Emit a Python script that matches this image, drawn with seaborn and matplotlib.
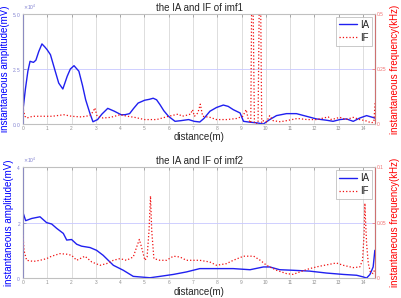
import matplotlib
matplotlib.use("Agg")
import matplotlib.pyplot as plt
import matplotlib.ticker as mticker
import seaborn as sns

sns.set_style("white")
plt.rcParams["font.family"] = ["Liberation Sans", "DejaVu Sans"]

# ---- imf1 : instantaneous amplitude (mV) ----
ia1_x = [0, 0.1, 0.2, 0.29, 0.43, 0.53, 0.65, 0.78, 0.9, 0.99, 1.13, 1.3, 1.47,
         1.64, 1.82, 1.95, 2.1, 2.3, 2.45, 2.58, 2.75, 2.88, 3.07, 3.25, 3.49,
         3.76, 4.04, 4.2, 4.39, 4.55, 4.74, 5.01, 5.2, 5.36, 5.5, 5.64, 5.8,
         5.99, 6.26, 6.5, 6.82, 7.05, 7.28, 7.45, 7.7, 7.97, 8.25, 8.45, 8.66,
         8.94, 9.08, 9.35, 9.63, 9.9, 10.16, 10.44, 10.85, 11.26, 11.67, 12.08,
         12.5, 12.77, 13.05, 13.32, 13.6, 13.87, 14.15, 14.49]
ia1_y = [6500, 16000, 24000, 28500, 28000, 29000, 33000, 36400, 35000, 33800,
         31500, 25000, 18600, 15900, 21700, 25000, 26500, 24000, 17500, 11000,
         5000, 1000, 2000, 4500, 7100, 5800, 4200, 4200, 4700, 7000, 9500,
         10800, 11200, 11700, 11000, 8800, 6000, 3500, 1200, 1500, 2000, 1200,
         900, 2500, 5800, 7500, 8600, 8000, 6500, 5000, 1200, 800, 500, 0, 2000,
         3800, 4700, 4700, 3500, 2300, 1700, 1200, 2000, 2300, 1200, 2700, 3800,
         2700]

# ---- imf1 : instantaneous frequency (kHz) ----
if1_x = [0, 0.02, 0.08, 0.15, 0.4, 0.8, 1.2, 1.68, 2.0, 2.4, 2.75, 2.88, 2.96,
         3.05, 3.3, 3.6, 4.0, 4.3, 4.6, 5.0, 5.5, 6.0, 6.2, 6.4, 6.55, 6.75,
         6.9, 6.98, 7.06, 7.2, 7.3, 7.4, 7.7, 7.97, 8.4, 8.8, 9.05, 9.19, 9.28,
         9.38, 9.44, 9.53, 9.6, 9.68, 9.76, 9.83, 9.9, 10.03, 10.16, 10.3, 10.6,
         10.85, 11.3, 11.7, 12.1, 12.57, 12.7, 13.05, 13.3, 13.6, 13.87, 14.1,
         14.35, 14.45, 14.5]
if1_y = [0.095, 0.06, 0.035, 0.027, 0.035, 0.035, 0.035, 0.042, 0.035, 0.032,
         0.038, 0.055, 0.073, 0.035, 0.027, 0.03, 0.042, 0.035, 0.03, 0.02,
         0.02, 0.035, 0.04, 0.045, 0.035, 0.04, 0.045, 0.065, 0.035, 0.05,
         0.09, 0.035, 0.03, 0.02, 0.02, 0.025, 0.035, 0.065, 0.02, 0.005, 0.9,
         0.005, 0.0, 0.005, 0.9, 0.005, 0.015, 0.01, 0.038, 0.015, 0.01, 0.015,
         0.025, 0.02, 0.02, 0.032, 0.02, 0.03, 0.02, 0.03, 0.02, 0.015, 0.005,
         0.01, 0.095]

# ---- imf2 : instantaneous amplitude (mV) ----
ia2_x = [0, 0.11, 0.36, 0.7, 0.97, 1.18, 1.39, 1.66, 1.8, 2.0, 2.21, 2.41, 2.76,
         3.03, 3.3, 3.72, 4.13, 4.54, 4.81, 5.23, 5.64, 6.19, 6.73, 7.28, 7.97,
         8.66, 9.35, 9.9, 10.16, 10.57, 11.12, 11.8, 12.5, 13.19, 13.74, 14.01,
         14.15, 14.29, 14.42, 14.49]
ia2_y = [23600, 20700, 21500, 22100, 20000, 19500, 17900, 16100, 13700, 13900,
         12200, 11500, 11000, 10000, 8200, 4600, 2800, 600, 400, 100, 600,
         1300, 2200, 3400, 3400, 3400, 3000, 4000, 4000, 3000, 2800, 2500,
         1800, 1300, 1000, 400, 0, 1300, 4000, 10000]

# ---- imf2 : instantaneous frequency (kHz) ----
if2_x = [0, 0.04, 0.15, 0.43, 0.7, 0.97, 1.18, 1.52, 1.8, 2.0, 2.21, 2.55, 2.83,
         3.17, 3.44, 3.72, 3.99, 4.26, 4.54, 4.68, 4.79, 4.88, 5.02, 5.11, 5.19,
         5.25, 5.3, 5.39, 5.64, 5.91, 6.19, 6.46, 6.73, 7.0, 7.28, 7.69, 7.97,
         8.38, 8.66, 9.08, 9.5, 9.77, 10.03, 10.44, 10.85, 11.12, 11.4, 11.8,
         12.2, 12.63, 12.9, 13.19, 13.6, 13.87, 13.98, 14.05, 14.08, 14.1, 14.15,
         14.22, 14.31, 14.42, 14.49]
if2_y = [0.0387, 0.025, 0.016, 0.015, 0.016, 0.0175, 0.0197, 0.022, 0.0215,
         0.0205, 0.016, 0.0197, 0.0145, 0.0115, 0.013, 0.016, 0.0175, 0.016,
         0.019, 0.028, 0.0348, 0.028, 0.016, 0.019, 0.043, 0.074, 0.043, 0.0175,
         0.016, 0.016, 0.0197, 0.019, 0.016, 0.016, 0.016, 0.0145, 0.0115,
         0.013, 0.016, 0.0197, 0.0197, 0.016, 0.0115, 0.007, 0.004, 0.0033,
         0.0055, 0.0085, 0.0106, 0.0124, 0.0136, 0.0115, 0.0094, 0.010, 0.016,
         0.040, 0.0674, 0.055, 0.031, 0.013, 0.005, 0.004, 0.008]

panels = [
    ("the IA and IF of imf1", ia1_x, ia1_y, if1_x, if1_y, 50000, [0, 25000, 50000],
     0.5, [0, 0.25, 0.5], ["0", "0.25", "0.5"]),
    ("the IA and IF of imf2", ia2_x, ia2_y, if2_x, if2_y, 40000, [0, 20000, 40000],
     0.1, [0, 0.05, 0.1], ["0", "0.05", "0.1"]),
]

blue = "#2020f0"
red = "#f01010"
fig = plt.figure(figsize=(4.01, 2.98), dpi=100)
rects = [[0.0574, 0.584, 0.878, 0.369], [0.0574, 0.067, 0.878, 0.372]]

for rect, (title, iax, iay, ifx, ify, lmax, lticks, rmax, rticks, rlabels) in zip(rects, panels):
    ax = fig.add_axes(rect)
    ax2 = ax.twinx()
    sns.lineplot(x=iax, y=iay, ax=ax, color=blue, lw=1.0, label="IA", legend=False)
    sns.lineplot(x=ifx, y=ify, ax=ax2, color=red, lw=0.9, linestyle=":", label="IF", legend=False)

    ax.set_xlim(0, 14.5)
    ax.set_ylim(0, lmax)
    ax2.set_ylim(0, rmax)
    ax.set_xticks(range(15))
    ax.set_yticks(lticks)
    ax2.set_yticks(rticks)
    ax2.set_yticklabels(rlabels)

    fmt = mticker.ScalarFormatter(useMathText=True)
    fmt.set_powerlimits((0, 0))
    ax.yaxis.set_major_formatter(fmt)
    ax.yaxis.get_offset_text().set_fontsize(3.5)
    ax.yaxis.get_offset_text().set_color("#8080d0")

    ax.xaxis.grid(True, color="#d8d8d8", lw=0.6)
    ax.yaxis.grid(True, color="#c8c8ff", lw=0.6)
    ax.set_axisbelow(True)

    ax.tick_params(axis="x", labelsize=3.5, colors="#909090", direction="in",
                   length=2, width=0.5, pad=1.5, top=True)
    ax.tick_params(axis="y", labelsize=3.5, colors="#8080d0", direction="in",
                   length=2, width=0.5, pad=1.5)
    ax2.tick_params(axis="y", labelsize=3.5, colors="#f07070", direction="in",
                    length=2, width=0.5, pad=1.5)

    for s in ["top", "bottom"]:
        ax.spines[s].set_color("#c0c0c0")
        ax2.spines[s].set_color("#c0c0c0")
    ax2.spines["left"].set_color("#a0a0e0")
    ax2.spines["right"].set_color("#f08080")
    for sp in ax2.spines.values():
        sp.set_linewidth(0.6)

    ax.set_title(title, fontsize=7, pad=2)
    ax.set_xlabel("distance(m)", fontsize=7, labelpad=1)
    ax.set_ylabel("instantaneous amplitude(mV)", fontsize=7, color="blue", labelpad=2)
    ax2.set_ylabel("instantaneous frequency(kHz)", fontsize=7, color="red", labelpad=2)

    h1, l1 = ax.get_legend_handles_labels()
    h2, l2 = ax2.get_legend_handles_labels()
    leg = ax2.legend(h1 + h2, l1 + l2, loc="upper right", fontsize=7,
                     frameon=True, fancybox=False, handlelength=1.9,
                     handletextpad=0.3, borderpad=0.3, labelspacing=0.3,
                     borderaxespad=0.3)
    leg.get_frame().set_edgecolor("#b0b0b0")
    leg.get_frame().set_linewidth(0.6)

fig.savefig("out.png", dpi=100)
